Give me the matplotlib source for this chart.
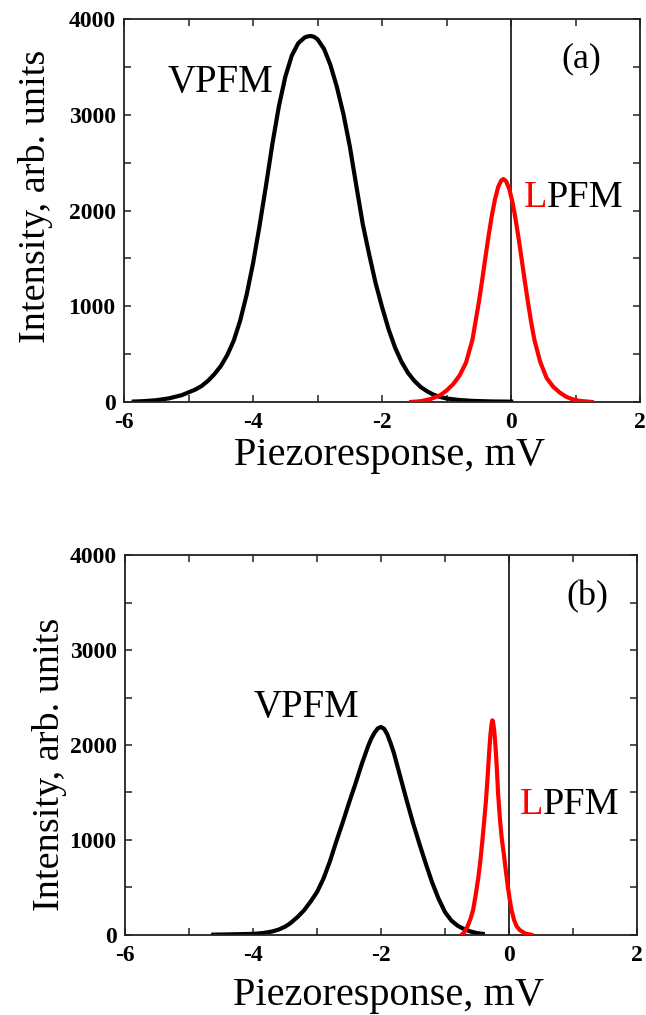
import matplotlib
matplotlib.use("Agg")
import matplotlib.pyplot as plt
from matplotlib.ticker import MultipleLocator

plt.rcParams['font.family'] = 'serif'
plt.rcParams['font.serif'] = ['Liberation Serif', 'DejaVu Serif']
plt.rcParams['axes.unicode_minus'] = False

# (a) histogramas de piezorespuesta
vpfm_a_x = [-5.85, -5.7, -5.5, -5.3, -5.1, -4.9, -4.8, -4.7, -4.6, -4.5, -4.4, -4.3, -4.2,
            -4.1, -4.0, -3.9, -3.8, -3.7, -3.6, -3.5, -3.4, -3.3, -3.2, -3.15, -3.1, -3.05,
            -3.0, -2.9, -2.8, -2.7, -2.6, -2.5, -2.4, -2.3, -2.2, -2.1, -2.0, -1.9, -1.8,
            -1.7, -1.6, -1.5, -1.4, -1.3, -1.2, -1.1, -1.0, -0.8, -0.6, -0.3, 0.0]
vpfm_a_y = [4, 8, 18, 38, 72, 128, 165, 220, 290, 375, 490, 640, 850,
            1120, 1450, 1840, 2260, 2700, 3090, 3400, 3620, 3750, 3810, 3822, 3825, 3815,
            3790, 3690, 3520, 3290, 3010, 2670, 2260, 1860, 1540, 1240, 990, 760, 570,
            420, 305, 220, 155, 110, 75, 52, 36, 20, 11, 5, 3]

lpfm_a_x = [-1.55, -1.4, -1.25, -1.1, -1.0, -0.9, -0.8, -0.7, -0.6, -0.5, -0.45, -0.4,
            -0.35, -0.3, -0.25, -0.2, -0.15, -0.12, -0.08, -0.03, 0.02, 0.06, 0.11, 0.16,
            0.21, 0.26, 0.31, 0.36, 0.45, 0.55, 0.65, 0.75, 0.85, 0.95, 1.05, 1.25]
lpfm_a_y = [0, 8, 30, 70, 120, 185, 275, 410, 650, 1045, 1270, 1505,
            1735, 1945, 2120, 2250, 2318, 2330, 2310, 2228, 2090, 1945, 1735, 1505,
            1270, 1045, 834, 650, 420, 250, 160, 100, 55, 28, 12, 0]

# (b)
vpfm_b_x = [-4.62, -4.4, -4.2, -4.0, -3.85, -3.7, -3.6, -3.5, -3.42, -3.3, -3.2, -3.1,
            -3.0, -2.9, -2.8, -2.7, -2.6, -2.5, -2.4, -2.3, -2.2, -2.15, -2.1, -2.05,
            -2.0, -1.95, -1.9, -1.85, -1.8, -1.7, -1.6, -1.5, -1.4, -1.3, -1.2, -1.1,
            -1.0, -0.9, -0.8, -0.7, -0.6, -0.5, -0.41]
vpfm_b_y = [2, 4, 7, 10, 18, 35, 55, 85, 120, 190, 260, 350,
            450, 590, 770, 980, 1180, 1390, 1590, 1800, 1990, 2070, 2130, 2175,
            2190, 2170, 2110, 2020, 1920, 1670, 1420, 1180, 960, 750, 550, 380,
            240, 150, 95, 60, 35, 18, 10]

lpfm_b_x = [-0.74, -0.7, -0.65, -0.6, -0.56, -0.52, -0.48, -0.45, -0.42, -0.39, -0.36,
            -0.33, -0.31, -0.29, -0.27, -0.26, -0.25, -0.23, -0.21, -0.19, -0.17, -0.14,
            -0.11, -0.08, -0.05, -0.02, 0.01, 0.04, 0.08, 0.12, 0.17, 0.25, 0.35]
lpfm_b_y = [0, 25, 85, 170, 263, 420, 600, 760, 960, 1180, 1410,
            1700, 1920, 2110, 2230, 2260, 2250, 2150, 1980, 1760, 1490, 1210,
            1000, 850, 680, 520, 380, 263, 155, 90, 50, 15, 0]

xticks = [-6, -4, -2, 0, 2]
yticks = [0, 1000, 2000, 3000, 4000]

fig = plt.figure(figsize=(6.46, 10.15), dpi=100)
ax1 = fig.add_axes([0.192, 0.604, 0.799, 0.377])
ax2 = fig.add_axes([0.1935, 0.079, 0.7925, 0.374])

panels = [
    # ax, curves, tag, VPFM pos, tag pos, LPFM pos, xlabel pad, ylabel pad, ylabel y
    (ax1, vpfm_a_x, vpfm_a_y, lpfm_a_x, lpfm_a_y, '(a)', (-4.5, 3340), (1.085, 3590),
     (0.19, 2130), 3, 11, 0.537),
    (ax2, vpfm_b_x, vpfm_b_y, lpfm_b_x, lpfm_b_y, '(b)', (-3.16, 2390), (1.23, 3560),
     (0.17, 1370), 8, 2, 0.45),
]

for ax, vx, vy, lx, ly, tag, vpos, tpos, lpos, xpad, ypad, ylab_y in panels:
    ax.axvline(0, color='#222222', lw=1.3, zorder=1)
    ax.plot(vx, vy, color='black', lw=3, solid_joinstyle='round', zorder=2)
    ax.plot(lx, ly, color='red', lw=3, solid_joinstyle='round', zorder=3)
    ax.set_xlim(-6, 2)
    ax.set_ylim(0, 4000)
    ax.set_xticks(xticks)
    ax.set_yticks(yticks)
    ax.xaxis.set_minor_locator(MultipleLocator(1))
    ax.yaxis.set_minor_locator(MultipleLocator(500))
    ax.tick_params(which='both', direction='in', top=True, right=True,
                   length=5, width=1.1, color='#222222')
    ax.tick_params(which='major', labelsize=17)
    ax.tick_params(axis='x', which='major', pad=7)
    ax.tick_params(axis='y', which='major', pad=6)
    for lab in ax.get_xticklabels() + ax.get_yticklabels():
        lab.set_fontweight('bold')
    for sp in ax.spines.values():
        sp.set_linewidth(1.3)
        sp.set_color('#222222')
    ax.set_xlabel('Piezoresponse, mV', fontsize=29, labelpad=xpad)
    ax.set_ylabel('Intensity, arb. units', fontsize=27.5, labelpad=ypad)
    ax.xaxis.label.set_x(0.515)
    ax.yaxis.label.set_y(ylab_y)

    ax.text(vpos[0], vpos[1], 'VPFM', fontsize=28, ha='center', va='center')
    ax.text(tpos[0], tpos[1], tag, fontsize=26, ha='center', va='center')
    l_txt = ax.text(lpos[0], lpos[1], 'L', fontsize=27.5, color='red', ha='left', va='center')
    ax.annotate('PFM', xy=(1, 0), xycoords=l_txt, fontsize=27.5, color='black',
                ha='left', va='bottom')

fig.savefig('out.png', dpi=100)
